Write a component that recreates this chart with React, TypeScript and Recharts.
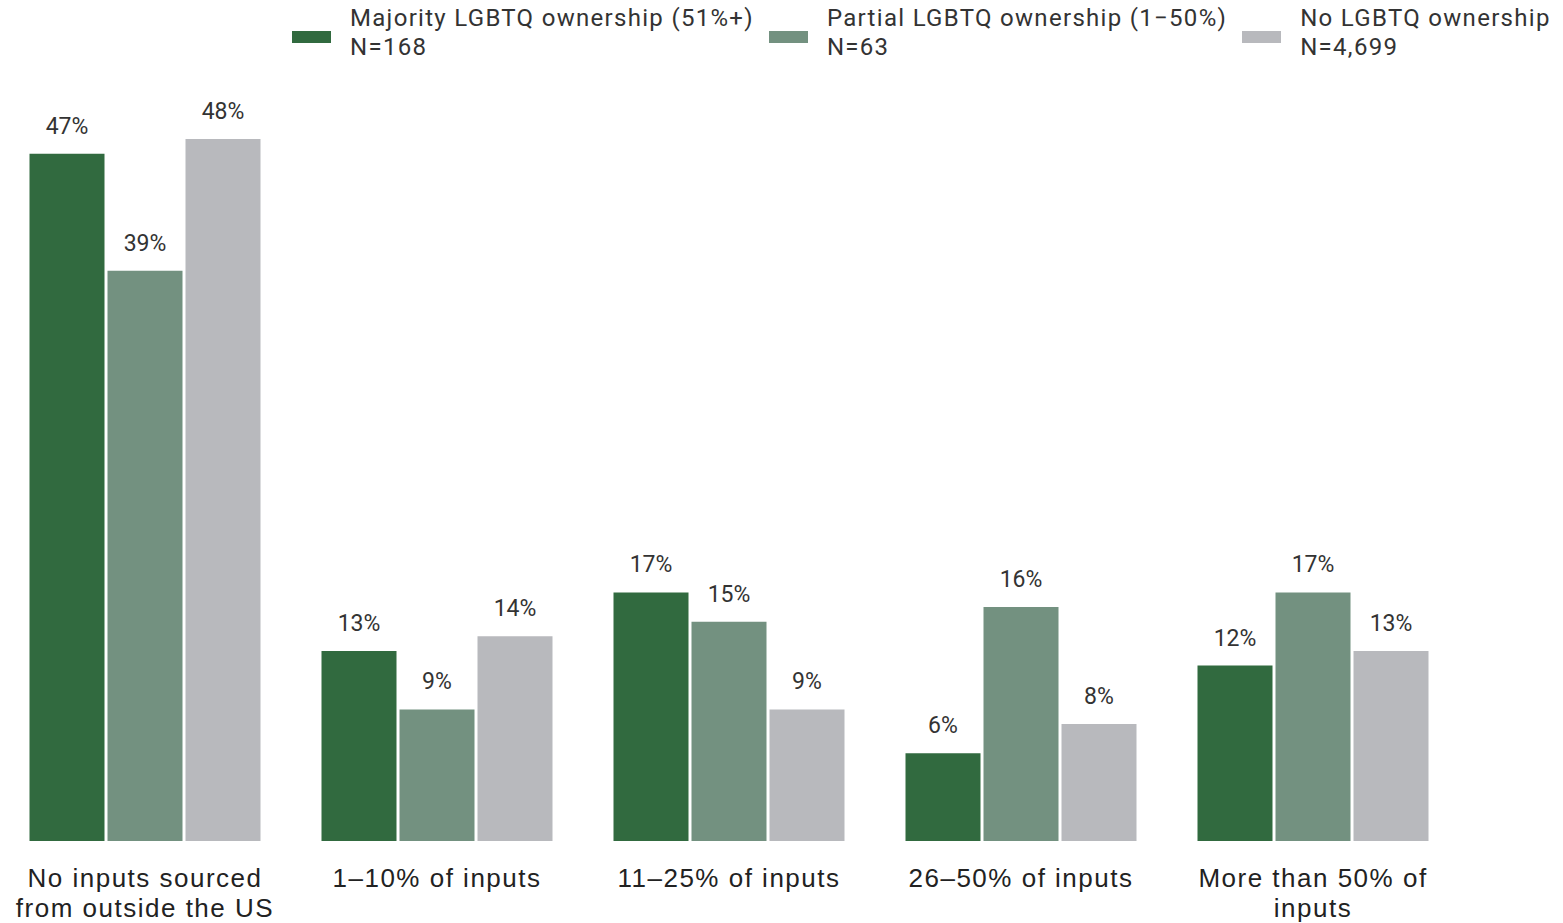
import { Bar, BarChart, LabelList, Legend, XAxis, YAxis } from "recharts";

const categories = [
  "No inputs sourced\nfrom outside the US",
  "1–10% of inputs",
  "11–25% of inputs",
  "26–50% of inputs",
  "More than 50% of\ninputs",
];
const majority = [47, 13, 17, 6, 12];
const partial = [39, 9, 15, 16, 17];
const none = [48, 14, 9, 8, 13];

const seriesNames = ["Majority LGBTQ ownership (51%+)", "Partial LGBTQ ownership (1−50%)", "No LGBTQ ownership"];
const seriesN = ["N=168", "N=63", "N=4,699"];
const colors = ["#316a3f", "#739180", "#b8b9bd"];

const data = categories.map((c, i) => ({ cat: c, a: majority[i], b: partial[i], c: none[i] }));

function CatTick({ x, y, payload }: any) {
  const lines = String(payload.value).split("\n");
  return (
    <text
      x={x}
      y={y}
      textAnchor="middle"
      fill="#222"
      fontFamily="'Liberation Sans', Arial, sans-serif"
      fontSize={26}
      letterSpacing={1.5}
    >
      {lines.map((l, i) => (
        <tspan key={i} x={x} dy={i === 0 ? 38 : 30}>
          {l}
        </tspan>
      ))}
    </text>
  );
}

function TopLegend() {
  return (
    <div
      style={{
        display: "flex",
        gap: 15,
        paddingLeft: 292,
        fontFamily: "Roboto, sans-serif",
        fontSize: 24,
        letterSpacing: 1.3,
        lineHeight: "29px",
        color: "#333",
      }}
    >
      {seriesNames.map((n, i) => (
        <div key={n} style={{ display: "flex", alignItems: "flex-start" }}>
          <div style={{ width: 39, height: 12, background: colors[i], marginRight: 19, marginTop: 27 }} />
          <div>
            <div>{n}</div>
            <div>{seriesN[i]}</div>
          </div>
        </div>
      ))}
    </div>
  );
}

const labelStyle = { fill: "#333", fontSize: 23, fontFamily: "Roboto, sans-serif" };

export default function App() {
  return (
    <div style={{ position: "absolute", left: 0, top: 0, width: 1563, height: 923, background: "#fff" }}>
      <BarChart
        width={1563}
        height={923}
        data={data}
        margin={{ top: 81, right: 104, left: -1, bottom: 0 }}
        barCategoryGap={30.5}
        barGap={3}
      >
        <Legend verticalAlign="top" content={<TopLegend />} wrapperStyle={{ top: 4, left: 0, width: 1563 }} />
        <XAxis dataKey="cat" height={82} tick={<CatTick />} axisLine={false} tickLine={false} interval={0} />
        <YAxis hide domain={[0, 48]} />
        {(["a", "b", "c"] as const).map((k, i) => (
          <Bar key={k} dataKey={k} fill={colors[i]} isAnimationActive={false}>
            <LabelList dataKey={k} position="top" offset={20} formatter={(v: any) => `${v}%`} style={labelStyle} />
          </Bar>
        ))}
      </BarChart>
    </div>
  );
}
